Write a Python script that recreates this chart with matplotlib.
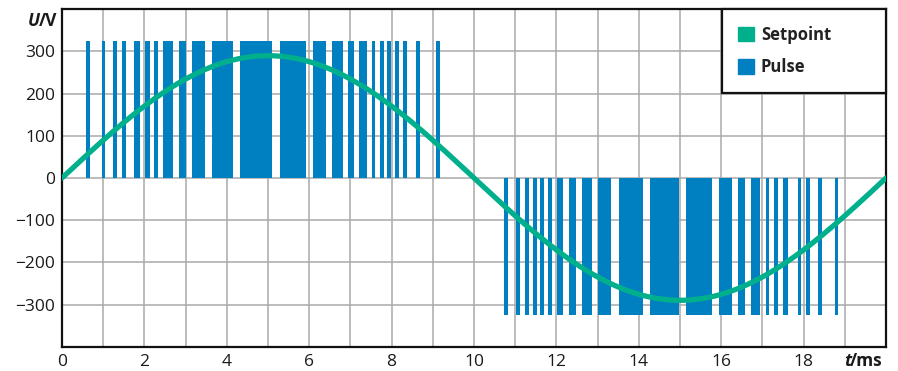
import numpy as np
import matplotlib
matplotlib.use("Agg")
from matplotlib import pyplot as plt
from matplotlib.patches import Patch

plt.rcParams['font.family'] = ['Open Sans', 'DejaVu Sans']

# setpoint: 50 Hz sine, amplitude in V
period_ms = 20.0
amplitude = 290.0
# pulse height (DC link)
pulse_v = 325.0

# pulses during the positive half wave (start, end in ms)
pos_start = [0.58, 0.96, 1.24, 1.46, 1.75, 2.02, 2.23, 2.44, 2.84, 3.15, 3.63, 4.32,
             5.29, 6.09, 6.55, 6.95, 7.21, 7.52, 7.71, 7.88, 8.08, 8.28, 8.59, 9.08]
pos_end = [0.67, 1.04, 1.33, 1.55, 1.89, 2.13, 2.33, 2.70, 3.00, 3.48, 4.14, 5.09,
           5.92, 6.41, 6.81, 7.08, 7.40, 7.60, 7.81, 7.98, 8.17, 8.37, 8.69, 9.17]

# pulses during the negative half wave
neg_start = [10.74, 11.02, 11.23, 11.43, 11.59, 11.80, 12.01, 12.30, 12.61, 13.02, 13.51, 14.28,
             15.15, 15.95, 16.41, 16.72, 17.09, 17.28, 17.49, 17.86, 18.06, 18.35, 18.76]
neg_end = [10.83, 11.12, 11.33, 11.52, 11.69, 11.89, 12.17, 12.48, 12.86, 13.33, 14.10, 14.97,
           15.78, 16.27, 16.57, 16.94, 17.17, 17.38, 17.61, 17.94, 18.15, 18.45, 18.84]

x_ticks = [0, 2, 4, 6, 8, 10, 12, 14, 16, 18]
y_ticks = [-300, -200, -100, 0, 100, 200, 300]

green = '#00b08c'
blue = '#0080c0'

fig = plt.figure(figsize=(8.98, 3.71), dpi=100)
ax = fig.add_axes([62/898, 1-346.7/371, 824/898, 337.4/371])

ps = np.array(pos_start)
pe = np.array(pos_end)
ns = np.array(neg_start)
ne = np.array(neg_end)
ax.bar(ps, pulse_v, width=pe-ps, align='edge', color=blue, zorder=2)
ax.bar(ns, -pulse_v, width=ne-ns, align='edge', color=blue, zorder=2)

t = np.linspace(0, period_ms, 1000)
ax.plot(t, amplitude*np.sin(2*np.pi*t/period_ms), color=green, lw=3.8, zorder=3,
        solid_capstyle='round')

ax.set_xlim(0, 20)
ax.set_ylim(-400, 400)
ax.set_xticks(x_ticks)
ax.set_yticks(y_ticks)
ax.set_xticks(np.arange(0, 20, 1), minor=True)
ax.grid(True, which='both', axis='x', color='#aaaaaa', lw=1.1, zorder=0)
ax.grid(True, which='major', axis='y', color='#aaaaaa', lw=1.1, zorder=0)
ax.set_axisbelow(True)
ax.tick_params(which='both', length=0, labelsize=12.5, pad=5, colors='#1a1a1a')
for s in ax.spines.values():
    s.set_linewidth(1.6)
    s.set_color('#111111')

# axis labels
fig.text(40/898, 1-21.5/371, 'U', fontsize=12.5, fontweight='bold', fontstyle='italic',
         ha='right', va='center', color='#1a1a1a')
fig.text(39/898, 1-21.5/371, '/V', fontsize=12.5, fontweight='bold',
         ha='left', va='center', color='#1a1a1a')
fig.text(851/898, 1-361/371, 't', fontsize=12.5, fontweight='bold', fontstyle='italic',
         ha='right', va='center', color='#1a1a1a')
fig.text(850/898, 1-361/371, '/ms', fontsize=12.5, fontweight='bold',
         ha='left', va='center', color='#1a1a1a')

handles = [Patch(color=green, label='Setpoint'), Patch(color=blue, label='Pulse')]
leg = ax.legend(handles=handles, loc='upper left', bbox_to_anchor=(0.8006, 0, 0.1994, 1.0),
                mode='expand', borderaxespad=0, borderpad=1.0, labelspacing=0.85,
                handlelength=0.95, handleheight=0.95, handletextpad=0.4,
                fancybox=False, framealpha=1, edgecolor='#111111',
                prop={'weight': 'bold', 'size': 12})
leg.get_frame().set_linewidth(1.6)
for txt in leg.get_texts():
    txt.set_color('#222222')

fig.savefig('out.png', dpi=100)
